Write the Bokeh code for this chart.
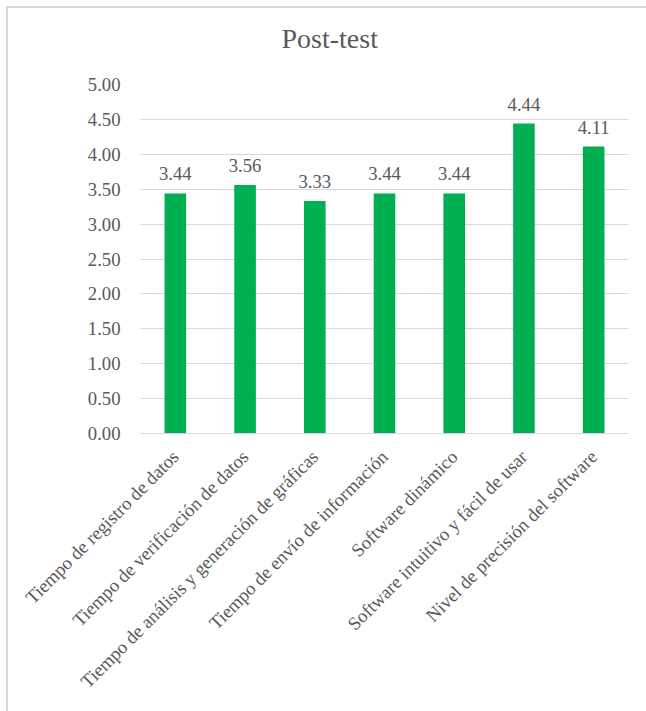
from bokeh.plotting import figure
from bokeh.models import ColumnDataSource, LabelSet, FixedTicker, NumeralTickFormatter, Range1d
from bokeh.embed import file_html
from bokeh.resources import INLINE
import math

title_text = "Post-test"
categories = [
    "Tiempo de registro de datos",
    "Tiempo de verificación de datos",
    "Tiempo de análisis y generación de gráficas",
    "Tiempo de envío de información",
    "Software dinámico",
    "Software intuitivo y fácil de usar",
    "Nivel de precisión del software",
]
values = [3.44, 3.56, 3.33, 3.44, 3.44, 4.44, 4.11]
y_ticks = [0, 0.5, 1, 1.5, 2, 2.5, 3, 3.5, 4, 4.5, 5]

FONT = "'Liberation Serif', 'Times New Roman', serif"
GRAY = "#595959"
GRID = "#d9d9d9"
FS = "18.67px"

src = ColumnDataSource(dict(cat=categories, val=values,
                            lbl=[f"{v:.2f}" for v in values]))

p = figure(x_range=categories, y_range=Range1d(0, 5), width=638, height=703,
           output_backend="svg", toolbar_location=None,
           min_border_left=132, min_border_right=18, min_border_top=76,
           min_border_bottom=278, margin=(8, 0, 0, 8),
           styles={"outline": "2px solid #d9d9d9"})

# trailing empty line lifts the title away from the plot frame
p.title.text = title_text + "\n "
p.title.text_font = FONT
p.title.text_font_size = "28px"
p.title.text_font_style = "normal"
p.title.text_color = GRAY
p.title.align = "left"
p.title.offset = 141
p.title.vertical_align = "bottom"
p.title.standoff = 0

p.vbar(x="cat", top="val", width=0.31, source=src, fill_color="#00B050", line_color=None)

labels = LabelSet(x="cat", y="val", text="lbl", source=src, text_align="center",
                  text_baseline="alphabetic", y_offset=13, text_font_size=FS,
                  text_color=GRAY)
labels.text_font = FONT
p.add_layout(labels)

p.outline_line_color = None
p.xgrid.grid_line_color = None
p.ygrid.grid_line_color = GRID
p.ygrid.grid_line_width = 1
p.yaxis.ticker = FixedTicker(ticks=y_ticks)
p.yaxis.formatter = NumeralTickFormatter(format="0.00")
p.yaxis.axis_line_color = None
p.yaxis.major_tick_line_color = None
p.yaxis.minor_tick_line_color = None
p.yaxis.major_label_standoff = 14

p.xaxis.axis_line_color = GRID
p.xaxis.major_tick_line_color = None
p.xaxis.minor_tick_line_color = None
p.xaxis.major_label_orientation = math.pi / 4
p.xaxis.major_label_standoff = 14

for ax in (p.xaxis, p.yaxis):
    ax.major_label_text_font = FONT
    ax.major_label_text_font_size = FS
    ax.major_label_text_color = GRAY

open("out.html", "w").write(file_html(p, INLINE))
